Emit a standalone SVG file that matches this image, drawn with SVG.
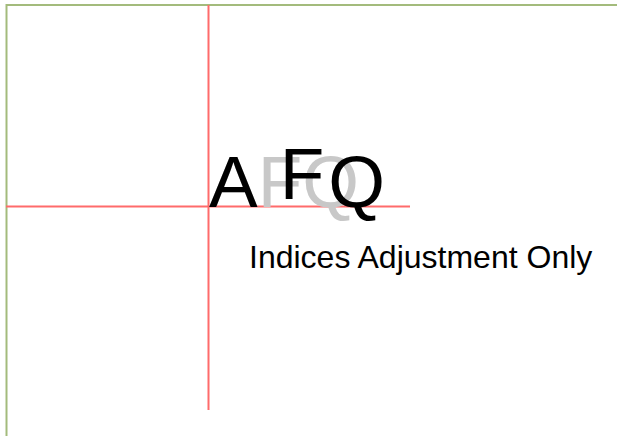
<svg xmlns="http://www.w3.org/2000/svg" width="617" height="436" viewBox="0 0 617 436">
  <style>
    .guide { stroke: #ff6b6b; stroke-width: 2; fill: none; }
    .big { font-family: "Liberation Sans", Arial, sans-serif; font-size: 73px; }
    .label { font-family: "Liberation Sans", Arial, sans-serif; font-size: 32px; fill: #000; }
  </style>
  <rect x="0" y="0" width="617" height="436" fill="#fff"/>
  <rect x="6.5" y="5" width="620" height="440" fill="none" stroke="#a3bb7c" stroke-width="2"/>
  <g id="guides">
    <line class="guide" x1="208.5" y1="5" x2="208.5" y2="410"/>
    <line class="guide" x1="6" y1="206.5" x2="410" y2="206.5"/>
  </g>
  <g id="reference-text">
    <text class="big" x="209" y="207" fill="#c8c8c8">AFQ</text>
  </g>
  <g id="adjusted-text">
    <text class="big" x="209" y="207" fill="#000" dx="0 22 4" dy="0 -8 8">AFQ</text>
  </g>
  <g id="caption">
    <text class="label" x="249" y="268">Indices Adjustment Only</text>
  </g>
</svg>
